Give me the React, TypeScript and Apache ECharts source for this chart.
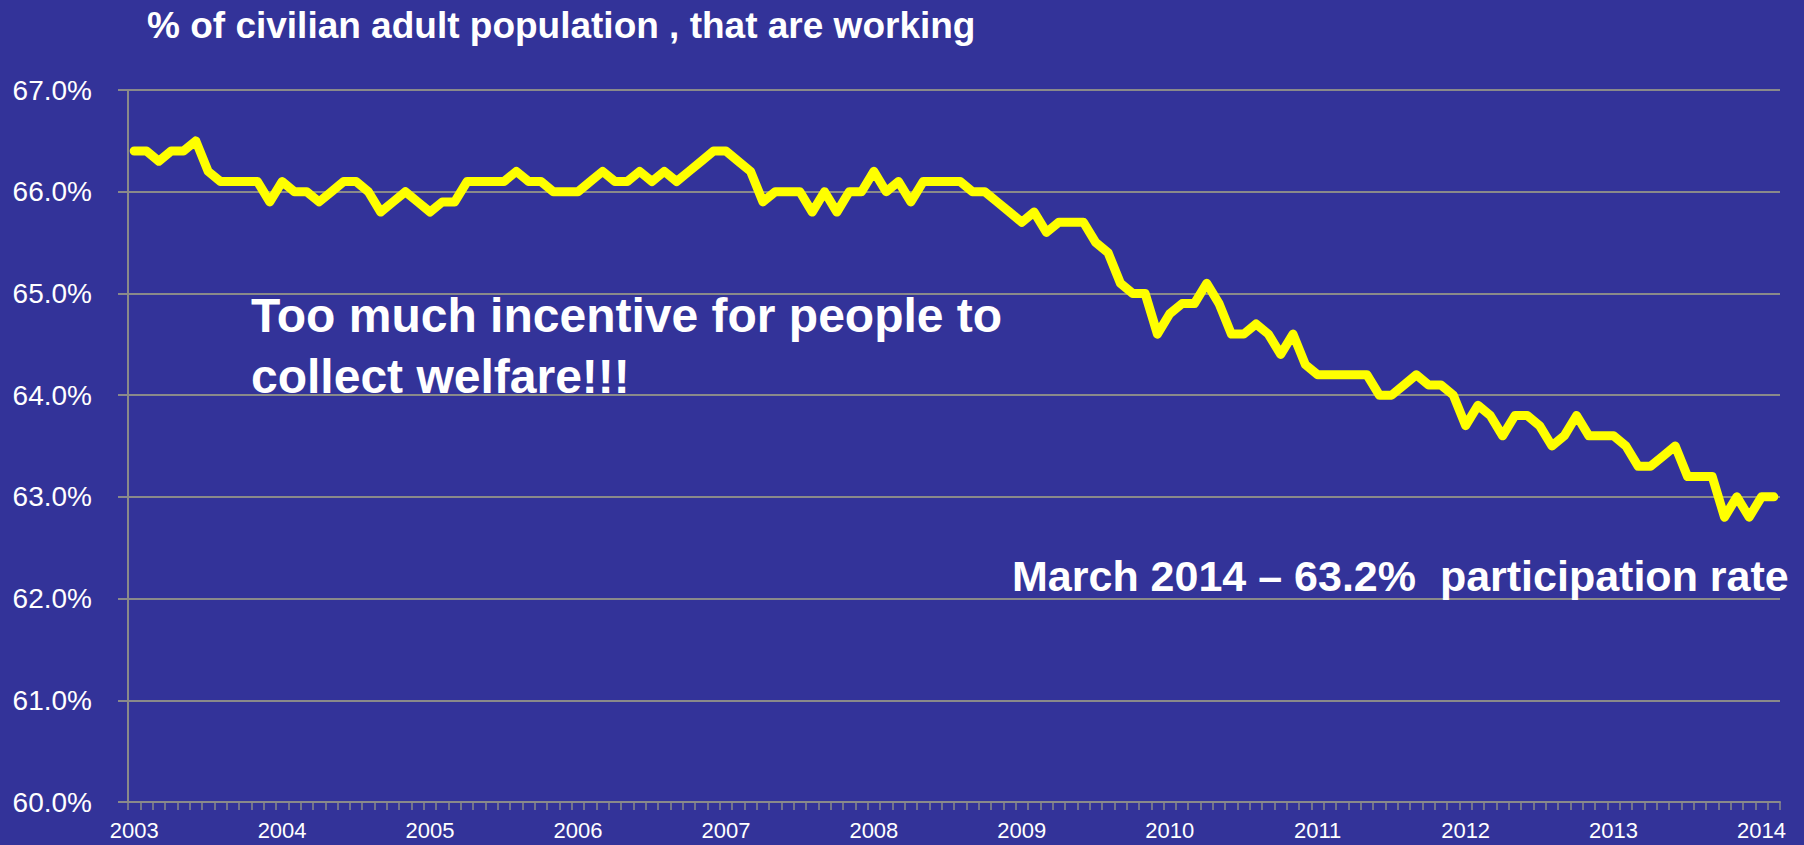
import React, { useEffect, useRef } from "react";
import * as echarts from "echarts";

// ---- Data ----
const years = ["2003", "2004", "2005", "2006", "2007", "2008", "2009", "2010", "2011", "2012", "2013", "2014"];
const monthsShown = 134; // Jan 2003 .. Feb 2014

const rates = [
  66.4, 66.4, 66.3, 66.4, 66.4, 66.5, 66.2, 66.1, 66.1, 66.1, 66.1, 65.9,
  66.1, 66.0, 66.0, 65.9, 66.0, 66.1, 66.1, 66.0, 65.8, 65.9, 66.0, 65.9,
  65.8, 65.9, 65.9, 66.1, 66.1, 66.1, 66.1, 66.2, 66.1, 66.1, 66.0, 66.0,
  66.0, 66.1, 66.2, 66.1, 66.1, 66.2, 66.1, 66.2, 66.1, 66.2, 66.3, 66.4,
  66.4, 66.3, 66.2, 65.9, 66.0, 66.0, 66.0, 65.8, 66.0, 65.8, 66.0, 66.0,
  66.2, 66.0, 66.1, 65.9, 66.1, 66.1, 66.1, 66.1, 66.0, 66.0, 65.9, 65.8,
  65.7, 65.8, 65.6, 65.7, 65.7, 65.7, 65.5, 65.4, 65.1, 65.0, 65.0, 64.6,
  64.8, 64.9, 64.9, 65.1, 64.9, 64.6, 64.6, 64.7, 64.6, 64.4, 64.6, 64.3,
  64.2, 64.2, 64.2, 64.2, 64.2, 64.0, 64.0, 64.1, 64.2, 64.1, 64.1, 64.0,
  63.7, 63.9, 63.8, 63.6, 63.8, 63.8, 63.7, 63.5, 63.6, 63.8, 63.6, 63.6,
  63.6, 63.5, 63.3, 63.3, 63.4, 63.5, 63.2, 63.2, 63.2, 62.8, 63.0, 62.8,
  63.0, 63.0,
];

const yTicks = [60, 61, 62, 63, 64, 65, 66, 67];

const titleText = "% of civilian adult population , that are working";
const noteLine1 = "Too much incentive for people to";
const noteLine2 = "collect welfare!!!";
const noteLine3 = "March 2014 \u2013 63.2%  participation rate";

// categories built from the year list (one per month)
const categories: string[] = [];
years.forEach((y) => {
  for (let m = 1; m <= 12; m++) {
    if (categories.length < monthsShown) categories.push(`${y}-${m < 10 ? "0" + m : m}`);
  }
});

const FONT = '"Liberation Sans", Arial, Helvetica, sans-serif';
const GRID_COLOR = "#8a8a8a";

export default function App() {
  const ref = useRef<HTMLDivElement>(null);

  useEffect(() => {
    document.body.style.margin = "0";
    const chart = echarts.init(ref.current!, null, { renderer: "svg", width: 1804, height: 845 });
    chart.setOption({
      animation: false,
      backgroundColor: "#333399",
      textStyle: { fontFamily: FONT },
      grid: { left: 128, right: 24, top: 90, bottom: 43, containLabel: false },
      xAxis: {
        type: "category",
        data: categories,
        boundaryGap: true,
        axisLine: { show: true, lineStyle: { color: GRID_COLOR, width: 2 } },
        axisTick: { show: true, interval: 0, length: 8, lineStyle: { color: GRID_COLOR, width: 1.5 } },
        axisLabel: {
          interval: (idx: number) => idx % 12 === 0,
          formatter: (v: string) => v.slice(0, 4),
          color: "#ffffff",
          fontSize: 22,
          fontFamily: FONT,
          margin: 17,
        },
        splitLine: { show: false },
      },
      yAxis: {
        type: "value",
        min: yTicks[0],
        max: yTicks[yTicks.length - 1],
        interval: 1,
        axisLine: { show: true, lineStyle: { color: GRID_COLOR, width: 2 } },
        axisTick: { show: true, length: 10, lineStyle: { color: GRID_COLOR, width: 2 } },
        axisLabel: {
          formatter: (v: number) => v.toFixed(1) + "%",
          color: "#ffffff",
          fontSize: 28,
          fontFamily: FONT,
          margin: 36,
        },
        splitLine: { show: true, lineStyle: { color: GRID_COLOR, width: 2 } },
      },
      series: [
        {
          type: "line",
          data: rates,
          showSymbol: false,
          symbol: "none",
          lineStyle: { color: "#ffff00", width: 9, cap: "round", join: "round" },
          itemStyle: { color: "#ffff00" },
          z: 5,
        },
      ],
      graphic: [
        {
          type: "text",
          x: 147,
          y: 25,
          style: {
            text: titleText,
            fill: "#ffffff",
            fontSize: 37,
            fontWeight: "bold",
            fontFamily: FONT,
            verticalAlign: "middle",
            align: "left",
          },
        },
        {
          type: "text",
          x: 251,
          y: 315,
          z: 10,
          style: {
            text: noteLine1,
            fill: "#ffffff",
            fontSize: 48,
            fontWeight: "bold",
            fontFamily: FONT,
            verticalAlign: "middle",
            align: "left",
          },
        },
        {
          type: "text",
          x: 251,
          y: 376,
          z: 10,
          style: {
            text: noteLine2,
            fill: "#ffffff",
            fontSize: 48,
            fontWeight: "bold",
            fontFamily: FONT,
            verticalAlign: "middle",
            align: "left",
          },
        },
        {
          type: "text",
          x: 1012,
          y: 576,
          z: 10,
          style: {
            text: noteLine3,
            fill: "#ffffff",
            fontSize: 43,
            fontWeight: "bold",
            fontFamily: FONT,
            verticalAlign: "middle",
            align: "left",
          },
        },
      ],
    });
    return () => chart.dispose();
  }, []);

  return (
    <div
      ref={ref}
      style={{ position: "absolute", left: 0, top: 0, width: 1804, height: 845 }}
    />
  );
}
